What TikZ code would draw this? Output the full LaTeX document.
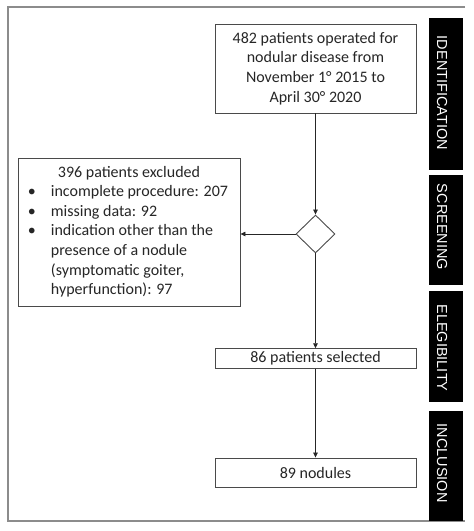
\documentclass[tikz,border=0pt]{standalone}
\usepackage{fontspec}
\setmainfont{Carlito}
\newfontfamily\barfont{Liberation Sans}
\usetikzlibrary{arrows.meta,shapes.geometric}
\definecolor{frame}{HTML}{8C8C8C}
\definecolor{boxline}{HTML}{4A4A4A}
\tikzset{
  box/.style={draw=boxline, line width=0.9pt, fill=white, inner sep=0pt, align=center,
    font=\fontsize{16}{19.6}\selectfont, text=black!85},
  arr/.style={draw=black!85, line width=0.7pt, -{Triangle[length=5pt,width=4.5pt]}},
  bar/.style={fill=black, draw=none},
  bartext/.style={text=white, rotate=-90, font=\barfont\fontsize{14.5}{16}\selectfont, inner sep=0pt},
  decision/.style={diamond, draw=boxline, line width=0.9pt, fill=white, inner sep=0pt, aspect=1}
}
\begin{document}
\begin{tikzpicture}[x=1pt, y=-1pt]
\useasboundingbox (0,0) rectangle (474,531);
% frame
\draw[frame, line width=1.4pt] (465,7) -- (8,7) -- (8,521) -- (465,521);
% side bars
\fill[bar] (429,18) rectangle (463,170);
\fill[bar] (429,175) rectangle (463,285);
\fill[bar] (429,291) rectangle (463,402);
\fill[bar] (429,411) rectangle (463,521);
\node[bartext] (tid) at (442,93) {IDENTIFICATION};
\node[bartext] (tsc) at (442,227) {SCREENING};
\node[bartext] (tel) at (442,348) {ELEGIBILITY};
\node[bartext] (tin) at (442,463) {INCLUSION};
% boxes
\node[box, minimum width=201pt, minimum height=89pt] (top) at (315.5,68.5)
  {482 patients operated for\\nodular disease from\\November 1° 2015 to\\April 30° 2020};
\node[decision, minimum width=39pt, minimum height=38pt] (dec) at (315.5,234) {};
\node[box, minimum width=222pt, minimum height=148pt] (excl) at (129,232)
  {\begin{tabular}{@{}p{21pt}@{}l@{}}
   \multicolumn{2}{c}{396 patients excluded}\\
   \hspace{-2pt}\textbullet & incomplete procedure: 207\\
   \hspace{-2pt}\textbullet & missing data: 92\\
   \hspace{-2pt}\textbullet & indication other than the\\
   & presence of a nodule\\
   & (symptomatic goiter,\\
   & hyperfunction): 97
   \end{tabular}};
\node[box, minimum width=201pt, minimum height=19.5pt] (sel) at (315.5,358.5) {86 patients selected};
\node[box, minimum width=201pt, minimum height=29pt] (nod) at (315.5,472.5) {89 nodules};
% connectors
\draw[arr] (top.south) -- (dec.north);
\draw[arr] (dec.west) -- (dec.west -| excl.east);
\draw[arr] (dec.south) -- (sel.north);
\draw[arr] (sel.south) -- (nod.north);
\end{tikzpicture}
\end{document}
